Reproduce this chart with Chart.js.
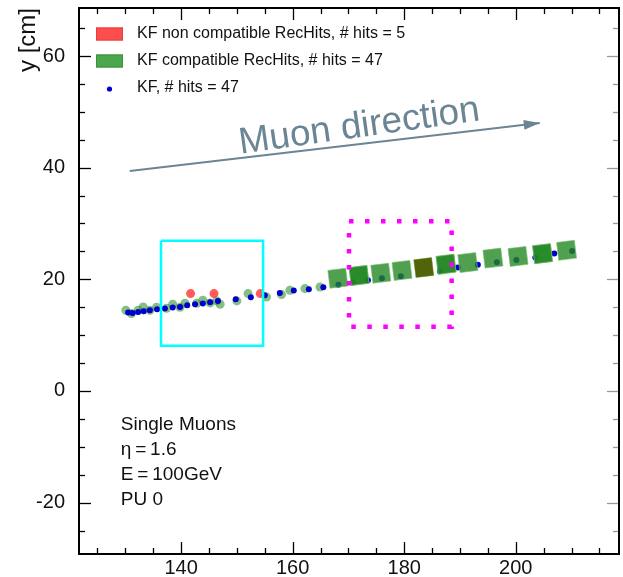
<!DOCTYPE html>
<html>
<head>
<meta charset="utf-8">
<script src="https://cdn.jsdelivr.net/npm/chart.js@4.4.0/dist/chart.umd.min.js"></script>
<style>
  html, body { margin: 0; padding: 0; background: #fff; }
  #wrap { width: 623px; height: 577px; }
</style>
</head>
<body>
<div id="wrap"><canvas id="track" width="623" height="577"></canvas></div>
<script>
const FONT = '"Liberation Sans", Arial, Helvetica, sans-serif';

// axis ranges and tick labels
const xRange = [121.7, 218.5];
const yRange = [-29.2, 68.6];
const xTickLabels = [140, 160, 180, 200];
const yTickLabels = [-20, 0, 20, 40, 60];

// KF fitted positions (blue dots)
const kfX = [130.5, 131.3, 132.3, 133.3, 134.4, 135.7, 137.1, 138.5, 139.8, 141.1, 142.5, 143.9,
  145.2, 146.6, 149.8, 152.5, 155.0, 157.7, 160.2, 162.9, 165.5, 168.2, 170.8, 173.5, 176.0,
  179.4, 186.4, 189.6, 193.2, 196.6, 200.1, 203.5, 206.9, 210.1];
const kfY = [14.05, 13.98, 14.16, 14.29, 14.46, 14.64, 14.77, 14.95, 15.05, 15.36, 15.54, 15.66,
  15.89, 16.13, 16.43, 16.79, 17.14, 17.55, 17.98, 18.21, 18.57, 19.05, 19.46, 19.82, 20.18,
  20.54, 21.43, 22.14, 22.59, 23.04, 23.48, 23.93, 24.64, 25.09];

// compatible rechits, tracker (green circles)
const compatX = [130.1, 131.1, 132.3, 133.2, 134.4, 135.6, 137.4, 138.5, 139.8, 140.7, 142.8,
  143.9, 145.2, 146.4, 147.0, 150.0, 152.0, 155.3, 158.0, 159.5, 162.2, 164.9];
const compatY = [14.46, 13.88, 14.46, 15.05, 14.46, 15.0, 14.82, 15.54, 15.0, 15.71, 15.71,
  16.25, 15.77, 16.13, 15.54, 16.13, 17.45, 16.84, 17.27, 18.04, 18.34, 18.63];

// compatible rechits, muon chambers (green squares)
const chamberX = [168.1, 171.9, 171.9, 175.8, 179.6, 183.5, 187.5, 187.5, 191.4, 195.9, 200.4, 204.8, 204.8, 209.1];
const chamberY = [20.2, 20.7, 20.7, 21.1, 21.6, 22.1, 22.7, 22.7, 23.0, 23.8, 24.1, 24.6, 24.6, 25.2];

// non compatible rechits
const nonCompatX = [141.7, 145.9, 154.2];
const nonCompatY = [17.45, 17.45, 17.45];
const nonCompatChamberX = [183.5];
const nonCompatChamberY = [22.1];

// highlighted regions and arrow
const cyanBoxX = [136.4, 154.7];
const cyanBoxY = [8.1, 26.9];
const magentaBoxX = [170.1, 188.5];
const magentaBoxY = [11.5, 30.4];
const arrowX = [130.8, 204.3];
const arrowY = [39.4, 48.0];

const legendLabels = ['KF non compatible RecHits, # hits = 5', 'KF compatible RecHits, # hits = 47', 'KF, # hits = 47'];
const infoLines = ['Single Muons', 'η\u2009=\u20091.6', 'E\u2009=\u2009100GeV', 'PU 0'];
const directionLabel = 'Muon direction';
const directionPos = [172.2, 45.5];
const infoPos = [129.2, -6.1];

const zip = (xs, ys) => xs.map((v, i) => ({ x: v, y: ys[i] }));
const box = (xs, ys) => zip([xs[0], xs[1], xs[1], xs[0], xs[0]], [ys[1], ys[1], ys[0], ys[0], ys[1]]);

const arrowColor = '#6b8595';

const blendPlugin = {
  id: 'blend',
  beforeDatasetDraw(chart, args) {
    if (chart.data.datasets[args.index].blend) {
      chart.ctx.save();
      chart.ctx.globalCompositeOperation = chart.data.datasets[args.index].blend;
    }
  },
  afterDatasetDraw(chart, args) {
    if (chart.data.datasets[args.index].blend) chart.ctx.restore();
  }
};

const decorPlugin = {
  id: 'decor',
  afterDraw(chart) {
    const { ctx, chartArea: a, scales: { x, y } } = chart;
    ctx.save();

    // arrow head
    const x0 = x.getPixelForValue(arrowX[0]), y0 = y.getPixelForValue(arrowY[0]);
    const x1 = x.getPixelForValue(arrowX[1]), y1 = y.getPixelForValue(arrowY[1]);
    const ang = Math.atan2(y1 - y0, x1 - x0);
    ctx.fillStyle = arrowColor;
    ctx.beginPath();
    ctx.moveTo(x1, y1);
    ctx.lineTo(x1 - 16 * Math.cos(ang) + 5 * Math.sin(ang), y1 - 16 * Math.sin(ang) - 5 * Math.cos(ang));
    ctx.lineTo(x1 - 16 * Math.cos(ang) - 5 * Math.sin(ang), y1 - 16 * Math.sin(ang) + 5 * Math.cos(ang));
    ctx.closePath();
    ctx.fill();

    // direction label
    ctx.save();
    ctx.translate(x.getPixelForValue(directionPos[0]), y.getPixelForValue(directionPos[1]));
    ctx.rotate(-8 * Math.PI / 180);
    ctx.font = '37px ' + FONT;
    ctx.fillStyle = arrowColor;
    ctx.textAlign = 'center';
    ctx.textBaseline = 'alphabetic';
    ctx.fillText(directionLabel, 0, 0);
    ctx.restore();

    // info text
    ctx.font = '19px ' + FONT;
    ctx.fillStyle = '#111';
    ctx.textAlign = 'left';
    ctx.textBaseline = 'middle';
    const ix = x.getPixelForValue(infoPos[0]), iy = y.getPixelForValue(infoPos[1]);
    infoLines.forEach((t, i) => ctx.fillText(t, ix, iy + i * 25));

    // legend
    const lx = a.left + 17, rows = [a.top + 26, a.top + 53, a.top + 80];
    ctx.font = '16px ' + FONT;
    ctx.lineWidth = 1;
    ctx.fillStyle = '#ff4d4d'; ctx.strokeStyle = '#e04040';
    ctx.fillRect(lx, rows[0] - 6.5, 27, 13); ctx.strokeRect(lx + 0.5, rows[0] - 6, 26, 12);
    ctx.fillStyle = '#4ca64c'; ctx.strokeStyle = '#3d8f3d';
    ctx.fillRect(lx, rows[1] - 6.5, 27, 13); ctx.strokeRect(lx + 0.5, rows[1] - 6, 26, 12);
    ctx.fillStyle = '#0000cc';
    ctx.beginPath(); ctx.arc(lx + 13.5, rows[2] + 1, 2.6, 0, 2 * Math.PI); ctx.fill();
    ctx.fillStyle = '#111';
    legendLabels.forEach((t, i) => ctx.fillText(t, a.left + 58, rows[i]));

    // frame and inward ticks on all sides
    ctx.strokeStyle = '#000';
    ctx.lineWidth = 1.3;
    for (let v = Math.ceil(x.min / 5) * 5; v <= x.max; v += 5) {
      const px = Math.round(x.getPixelForValue(v)) + 0.5;
      const len = v % 20 === 0 ? 12 : 6;
      ctx.beginPath();
      ctx.moveTo(px, a.bottom); ctx.lineTo(px, a.bottom - len);
      ctx.moveTo(px, a.top); ctx.lineTo(px, a.top + len);
      ctx.stroke();
    }
    for (let v = Math.ceil(y.min / 5) * 5; v <= y.max; v += 5) {
      const py = Math.round(y.getPixelForValue(v)) + 0.5;
      const len = v % 20 === 0 ? 12 : 6;
      ctx.strokeStyle = '#000';
      ctx.beginPath(); ctx.moveTo(a.left, py); ctx.lineTo(a.left + len, py); ctx.stroke();
      ctx.strokeStyle = '#999';
      ctx.beginPath(); ctx.moveTo(a.right, py); ctx.lineTo(a.right - len, py); ctx.stroke();
    }
    ctx.strokeStyle = '#000';
    ctx.lineWidth = 2;
    ctx.strokeRect(a.left, a.top, a.right - a.left, a.bottom - a.top);
    ctx.restore();
  }
};

new Chart(document.getElementById('track'), {
  type: 'scatter',
  data: {
    datasets: [
      { label: 'magenta', data: box(magentaBoxX, magentaBoxY), showLine: true, pointRadius: 0,
        borderColor: '#ff00ff', borderWidth: 4.5, borderDash: [4.5, 11.5], borderCapStyle: 'butt', order: 0 },
      { label: 'cyan', data: box(cyanBoxX, cyanBoxY), showLine: true, pointRadius: 0,
        borderColor: '#00ffff', borderWidth: 2.5, order: 1 },
      { label: 'arrow', data: zip(arrowX, arrowY), showLine: true, pointRadius: 0,
        borderColor: arrowColor, borderWidth: 2, order: 2 },
      { label: 'non compatible chamber', data: zip(nonCompatChamberX, nonCompatChamberY), pointStyle: 'rect',
        rotation: -7, pointRadius: 12.7, backgroundColor: 'rgb(255,160,30)', borderWidth: 0, blend: 'multiply', order: 3 },
      { label: 'compatible chamber', data: zip(chamberX, chamberY), pointStyle: 'rect', rotation: -7,
        pointRadius: 12.7, backgroundColor: 'rgba(33,135,33,0.79)', borderColor: 'rgba(120,190,120,0.6)', borderWidth: 1, order: 4 },
      { label: 'KF', data: zip(kfX, kfY), pointRadius: 3, backgroundColor: '#0000cc', borderWidth: 0, order: 5 },
      { label: 'non compatible', data: zip(nonCompatX, nonCompatY), pointRadius: 4.5,
        backgroundColor: 'rgba(255,50,50,0.8)', borderWidth: 0, order: 6 },
      { label: 'compatible', data: zip(compatX, compatY), pointRadius: 4.5,
        backgroundColor: 'rgba(34,139,34,0.55)', borderWidth: 0, order: 7 }
    ]
  },
  options: {
    responsive: false,
    animation: false,
    devicePixelRatio: 1,
    layout: { autoPadding: false, padding: { top: 8, right: 4, left: 0, bottom: 0 } },
    plugins: { legend: { display: false }, tooltip: { enabled: false } },
    scales: {
      x: {
        type: 'linear', min: xRange[0], max: xRange[1],
        grid: { display: false }, border: { display: false },
        afterBuildTicks: s => { s.ticks = xTickLabels.map(v => ({ value: v })); },
        afterFit: s => { s.height = 23; s.paddingLeft = 0; s.paddingRight = 0; },
        ticks: { padding: -6, color: '#111', font: { family: FONT, size: 20 }, maxRotation: 0 }
      },
      y: {
        type: 'linear', min: yRange[0], max: yRange[1],
        grid: { display: false }, border: { display: false },
        afterBuildTicks: s => { s.ticks = yTickLabels.map(v => ({ value: v })); },
        afterFit: s => { s.width = 79; s.paddingTop = 0; s.paddingBottom = 0; },
        ticks: { padding: 6, color: '#111', font: { family: FONT, size: 20 } },
        title: { display: true, text: 'y [cm]', align: 'end', color: '#111',
          font: { family: FONT, size: 24 }, padding: { top: 14, bottom: 0 } }
      }
    }
  },
  plugins: [blendPlugin, decorPlugin]
});
</script>
</body>
</html>
